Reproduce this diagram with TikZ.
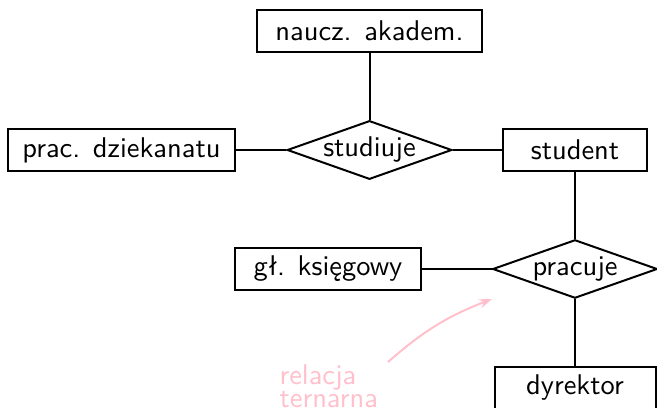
\documentclass[tikz,border=0pt]{standalone}
\usepackage{fontspec}
\usetikzlibrary{shapes.geometric,arrows.meta}
\definecolor{notepink}{RGB}{255,192,203}
\begin{document}
\begin{tikzpicture}[x=0.351pt,y=-0.351pt,
  every node/.style={font=\sffamily},
  entity/.style={draw,line width=0.7pt,minimum height=14.7pt,inner sep=0pt},
  rel/.style={draw,diamond,line width=0.7pt,inner sep=0pt,aspect=2.8,minimum width=57.8pt,minimum height=20.5pt},
  link/.style={line width=0.7pt},
  note/.style={text=notepink,align=left,inner sep=0pt,font=\sffamily\fontsize{10}{8.1}\selectfont},
  notearrow/.style={draw=notepink,line width=0.7pt,-{Stealth[length=4.5pt,width=3.2pt]}}]
\useasboundingbox (0,0) rectangle (657,407);
\node[entity,minimum width=79pt] (na) at (369.5,31) {naucz. akadem.};
\node[rel] (st) at (369.5,150) {studiuje};
\node[entity,minimum width=79.6pt] (pd) at (121.5,150) {prac. dziekanatu};
\node[entity,minimum width=50.5pt] (stu) at (575,150) {student};
\node[rel] (pr) at (575,269) {pracuje};
\node[entity,minimum width=65.3pt] (gk) at (328,269) {gł. księgowy};
\node[entity,minimum width=56.5pt] (dy) at (575,388) {dyrektor};
\node[note,anchor=north west] (rt) at (279,364) {relacja\\ternarna};
\coordinate (as) at (388,362);
\coordinate (ae) at (492,299);
\draw[link] (na) -- (st);
\draw[link] (pd) -- (st);
\draw[link] (st) -- (stu);
\draw[link] (stu) -- (pr);
\draw[link] (gk) -- (pr);
\draw[link] (pr) -- (dy);
\draw[notearrow] (as) to[bend left=10] (ae);
\end{tikzpicture}
\end{document}
